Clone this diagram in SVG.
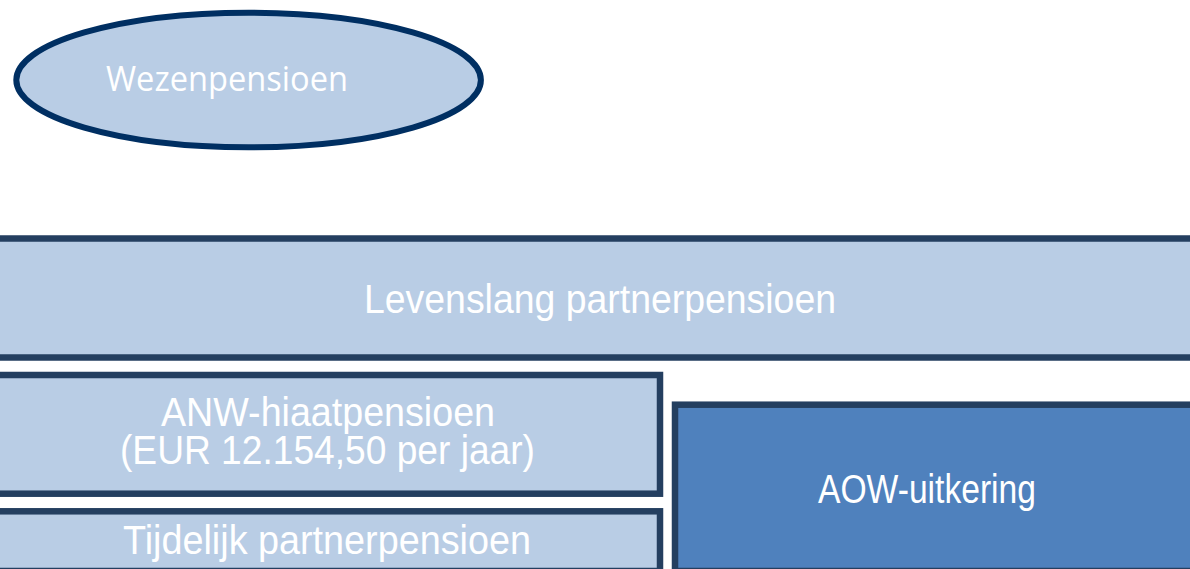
<svg xmlns="http://www.w3.org/2000/svg" width="1190" height="569" viewBox="0 0 1190 569">
<style>
.light{fill:#B9CDE5;stroke:#243F60;stroke-width:6.5}
.dark{fill:#4F81BD;stroke:#243F60;stroke-width:6.5}
.t{font-family:"Liberation Sans",Arial,sans-serif;fill:#FFFFFF;font-size:40px}
</style>
<rect width="1190" height="569" fill="#FFFFFF"/>
<g id="wezenpensioen">
<ellipse cx="248.6" cy="80" rx="232.3" ry="67.3" fill="#B9CDE5" stroke="#002F62" stroke-width="6"/>
<text x="106" y="90.5" style="font-family:'Open Sans',sans-serif;fill:#FFFFFF;font-size:34px" textLength="242" lengthAdjust="spacingAndGlyphs">Wezenpensioen</text>
</g>
<g id="levenslang">
<rect class="light" x="-5" y="238.5" width="1210" height="119"/>
<text class="t" x="364" y="312.5" textLength="472" lengthAdjust="spacingAndGlyphs">Levenslang partnerpensioen</text>
</g>
<g id="anw">
<rect class="light" x="-5" y="375" width="665" height="118.7"/>
<text class="t" x="161" y="426" textLength="334" lengthAdjust="spacingAndGlyphs">ANW-hiaatpensioen</text>
<text class="t" x="120" y="464" textLength="415" lengthAdjust="spacingAndGlyphs">(EUR 12.154,50 per jaar)</text>
</g>
<g id="tijdelijk">
<rect class="light" x="-5" y="511.3" width="665" height="59.7"/>
<text class="t" x="123" y="553.5" textLength="408" lengthAdjust="spacingAndGlyphs">Tijdelijk partnerpensioen</text>
</g>
<g id="aow">
<rect class="dark" x="675" y="404.7" width="530" height="166.3"/>
<text class="t" x="818" y="502.5" textLength="218" lengthAdjust="spacingAndGlyphs">AOW-uitkering</text>
</g>
<g id="connectors"/>
</svg>
